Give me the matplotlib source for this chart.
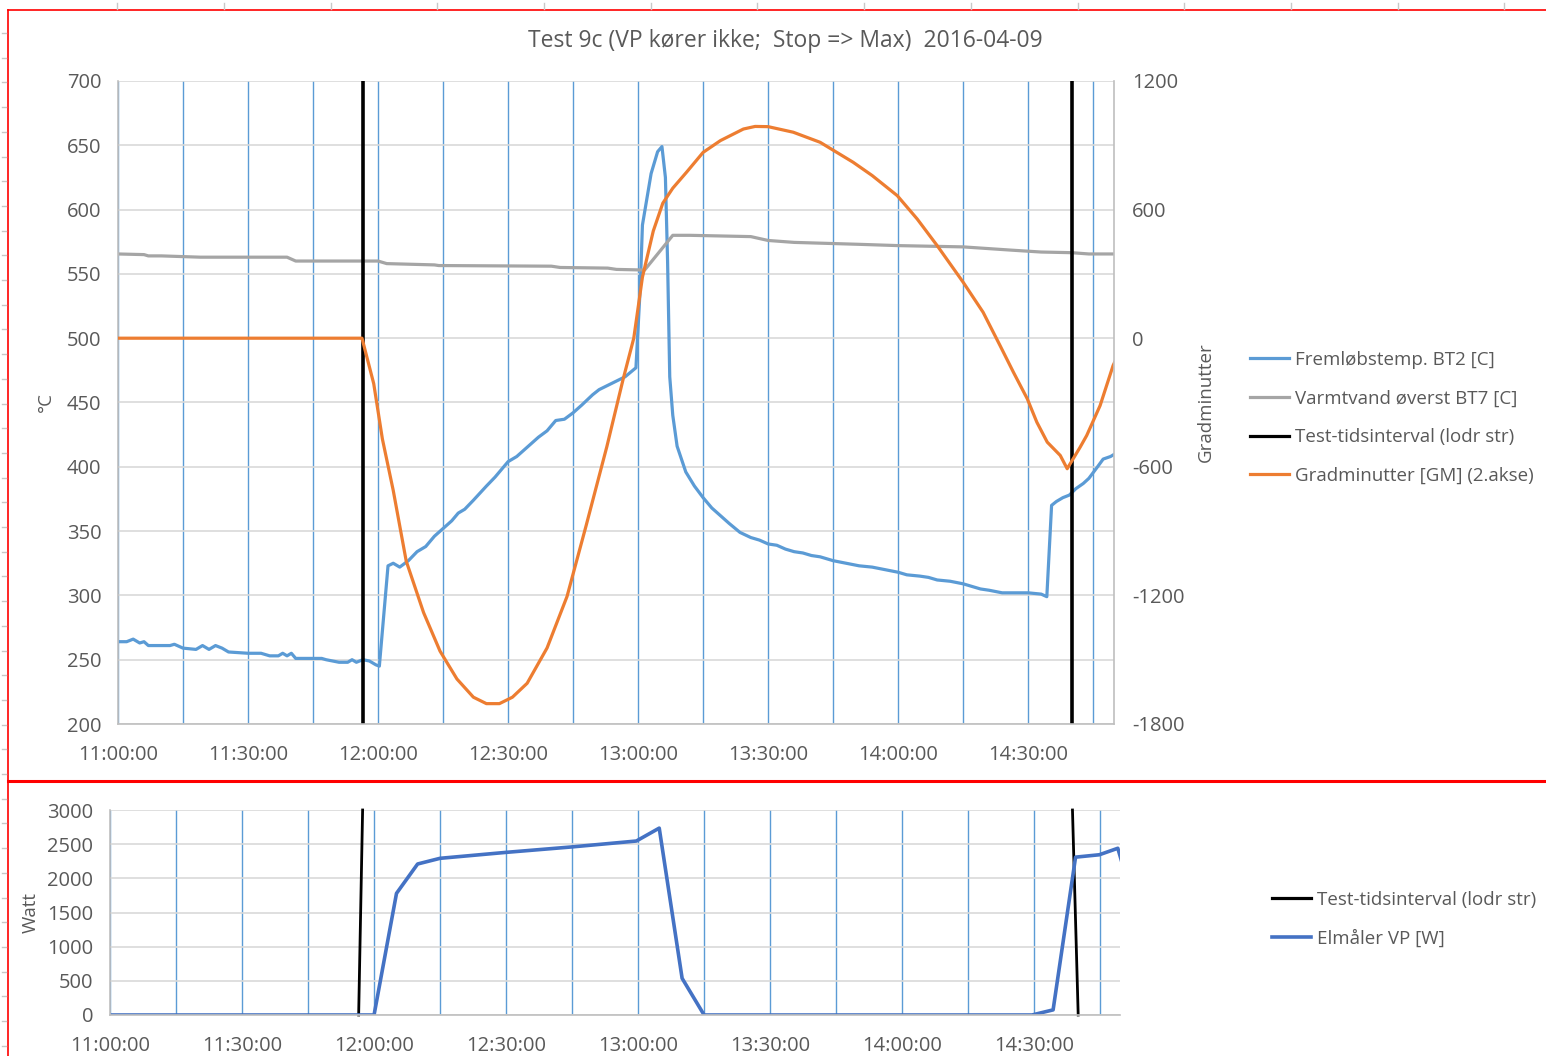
import numpy as np
import matplotlib as mpl
mpl.use('Agg')
import matplotlib.pyplot as plt
from matplotlib.lines import Line2D
from matplotlib.ticker import MultipleLocator, FuncFormatter

plt.rcParams['font.family'] = ['Open Sans', 'DejaVu Sans']
plt.rcParams['axes.unicode_minus'] = False

# Fremløbstemp. BT2 [C]  (left axis)
bt2_time = ['11:00:00', '11:02:00', '11:03:30', '11:05:00', '11:06:00', '11:07:00', '11:12:00', '11:13:00',
            '11:15:00', '11:18:00', '11:19:30', '11:21:00', '11:22:30', '11:24:00', '11:25:30', '11:30:00',
            '11:33:00', '11:35:00', '11:37:00', '11:38:00', '11:39:00', '11:40:00', '11:41:00', '11:47:00',
            '11:48:00', '11:51:00', '11:53:00', '11:54:00', '11:55:00', '11:56:30', '11:58:00', '11:59:30',
            '12:00:18', '12:02:18', '12:03:30', '12:05:00', '12:07:00', '12:09:00', '12:11:00', '12:13:00',
            '12:15:00', '12:17:00', '12:18:30', '12:20:00', '12:22:00', '12:25:00', '12:27:00', '12:30:00',
            '12:32:00', '12:35:00', '12:37:00', '12:39:00', '12:41:00', '12:43:00', '12:45:00', '12:47:00',
            '12:49:30', '12:51:00', '12:54:00', '12:57:00', '12:59:30', '13:00:30', '13:01:00', '13:03:00',
            '13:04:30', '13:05:30', '13:06:18', '13:06:48', '13:07:18', '13:08:00', '13:09:00', '13:11:00',
            '13:13:00', '13:15:00', '13:17:00', '13:19:00', '13:21:00', '13:23:30', '13:26:00', '13:28:00',
            '13:30:00', '13:32:00', '13:34:00', '13:36:00', '13:38:00', '13:40:00', '13:42:00', '13:45:00',
            '13:48:00', '13:51:00', '13:54:00', '13:57:00', '14:00:00', '14:02:00', '14:05:00', '14:07:00',
            '14:09:00', '14:12:00', '14:15:00', '14:17:00', '14:19:00', '14:21:00', '14:24:00', '14:27:00',
            '14:30:00', '14:33:00', '14:34:18', '14:35:24', '14:36:30', '14:38:00', '14:39:30', '14:41:00',
            '14:42:42', '14:44:00', '14:46:00', '14:47:18', '14:49:00', '14:50:00']
bt2_val = [264, 264, 266, 263, 264, 261, 261, 262,
           259, 258, 261, 258, 261, 259, 256, 255,
           255, 253, 253, 255, 253, 255, 251, 251,
           250, 248, 248, 250, 248, 250, 249, 246,
           245, 323, 325, 322, 327, 334, 338, 346,
           352, 358, 364, 367, 374, 385, 392, 404,
           408, 417, 423, 428, 436, 437, 442, 448,
           456, 460, 465, 470, 477, 540, 588, 628,
           645, 649, 625, 560, 470, 440, 416, 396,
           385, 376, 368, 362, 356, 349, 345, 343,
           340, 339, 336, 334, 333, 331, 330, 327,
           325, 323, 322, 320, 318, 316, 315, 314,
           312, 311, 309, 307, 305, 304, 302, 302,
           302, 301, 299, 370, 373, 376, 378, 383,
           387, 391, 400, 406, 408, 410]

# Varmtvand øverst BT7 [C]  (left axis)
bt7_time = ['11:00:00', '11:06:00', '11:07:00', '11:10:00', '11:19:00', '11:39:00', '11:41:00', '12:00:00',
            '12:02:00', '12:13:00', '12:14:00', '12:40:00', '12:42:00', '12:53:00', '12:55:00', '13:01:30',
            '13:08:00', '13:12:00', '13:26:00', '13:30:00', '13:36:00', '13:51:00', '14:00:00', '14:15:00',
            '14:26:00', '14:33:00', '14:40:00', '14:44:00', '14:50:00']
bt7_val = [565.5, 565, 564, 564, 563, 563, 560, 560,
           558, 557, 556.5, 556, 555, 554.5, 553.5, 553,
           580, 580, 579, 576, 574.5, 573, 572, 571,
           568.5, 567, 566.5, 565.5, 565.5]

# Gradminutter [GM] (2.akse)
gm_time = ['11:00:00', '11:56:18', '11:59:00', '12:01:00', '12:03:30', '12:06:30', '12:10:30', '12:14:18',
           '12:18:12', '12:22:00', '12:25:00', '12:28:00', '12:31:00', '12:34:24', '12:39:00', '12:43:36',
           '12:48:00', '12:52:48', '12:56:30', '12:59:00', '13:01:00', '13:03:30', '13:05:42', '13:08:00',
           '13:11:12', '13:15:00', '13:19:00', '13:24:18', '13:27:00', '13:30:00', '13:35:48', '13:42:00',
           '13:49:36', '13:54:00', '13:59:48', '14:04:24', '14:09:00', '14:15:00', '14:19:36', '14:23:30',
           '14:26:36', '14:29:48', '14:32:00', '14:34:24', '14:37:24', '14:39:00', '14:42:00', '14:43:30',
           '14:46:36', '14:49:36', '14:50:00']
gm_val = [0, 0, -212, -470, -710, -1040, -1280, -1460,
          -1590, -1675, -1705, -1705, -1675, -1610, -1445, -1205,
          -875, -505, -195, 0, 285, 500, 630, 700,
          775, 867, 922, 976, 988, 987, 961, 914,
          821, 759, 665, 556, 432, 261, 121, -34,
          -159, -283, -392, -485, -547, -609, -508, -454,
          -314, -127, -110]

# Test-tidsinterval (lodr str)
test_interval = ['11:56:30', '14:40:00']
test_w_time = [['11:56:30', '11:57:24'], ['14:38:42', '14:40:00']]
test_w_val = [[0, 3000], [3000, 0]]

# Elmåler VP [W]
el_time = ['11:00:00', '12:00:00', '12:05:06', '12:09:54', '12:15:00', '12:30:00', '12:45:00', '12:59:36',
           '13:04:48', '13:10:00', '13:15:00', '14:29:30', '14:34:18', '14:39:24', '14:44:48', '14:49:00',
           '14:51:00']
el_val = [0, 0, 1780, 2210, 2293, 2380, 2460, 2546,
          2735, 537, 0, 0, 75, 2310, 2345, 2440,
          2000]


def tmin(s):
    h, m, sec = s.split(':')
    return int(h) * 60 + int(m) + int(sec) / 60.0


def fmt_time(v, pos):
    v = int(round(v))
    return '{:02d}:{:02d}:00'.format(v // 60, v % 60)


BLUE = '#5b9bd5'
GRAY = '#a5a5a5'
ORANGE = '#ed7d31'
DBLUE = '#4472c4'
TXT = '#595959'
GRID = '#d9d9d9'
SPINE = '#bfbfbf'
FS = 13.5    # legend / axis titles
TFS = 14.5   # tick labels

W, H = 1546, 1056
fig = plt.figure(figsize=(W / 100, H / 100), dpi=100)


def px_ax(l, t, r, b):
    return fig.add_axes([l / W, 1 - b / H, (r - l) / W, (b - t) / H])


def style_time_axis(ax):
    ax.xaxis.set_major_locator(MultipleLocator(30))
    ax.xaxis.set_minor_locator(MultipleLocator(15))
    ax.xaxis.set_major_formatter(FuncFormatter(fmt_time))
    ax.grid(True, which='both', axis='x', color=BLUE, lw=1.0)
    ax.grid(True, which='major', axis='y', color=GRID, lw=1.2)
    ax.set_axisbelow(True)
    ax.tick_params(which='both', length=0, colors=TXT, labelsize=TFS)
    for s in ['top', 'right']:
        ax.spines[s].set_visible(False)
    for s in ['left', 'bottom']:
        ax.spines[s].set_color(SPINE)
        ax.spines[s].set_linewidth(1.2)


# ---------------- top chart ----------------
ax = px_ax(118, 81, 1114, 724)
ax2 = ax.twinx()
t0 = tmin('11:00:00')
ax.set_xlim(t0, t0 + 229.8)
ax.set_ylim(200, 700)
ax.set_yticks(np.arange(200, 701, 50))
ax2.set_ylim(-1800, 1200)
ax2.set_yticks(np.arange(-1800, 1201, 600))
style_time_axis(ax)
ax.tick_params(axis='y', pad=12)
ax.tick_params(axis='x', pad=15)
for s in ['left', 'top', 'bottom']:
    ax2.spines[s].set_visible(False)
ax2.spines['right'].set_color(SPINE)
ax2.spines['right'].set_linewidth(1.2)
ax2.tick_params(length=0, colors=TXT, labelsize=TFS, pad=13)

ax.plot([tmin(t) for t in bt2_time], bt2_val, color=BLUE, lw=2.3)
ax.plot([tmin(t) for t in bt7_time], bt7_val, color=GRAY, lw=2.3)
for t in test_interval:
    ax.axvline(tmin(t), color='black', lw=2.6)
ax2.plot([tmin(t) for t in gm_time], gm_val, color=ORANGE, lw=2.3)

ax.set_ylabel('°C', color=TXT, fontsize=FS)
ax.yaxis.set_label_coords(-0.063, 0.5)
ax2.set_ylabel('Gradminutter', color=TXT, fontsize=FS)
ax2.yaxis.set_label_coords(1.083, 0.5)

fig.text(785 / W, 1 - 41 / H, 'Test 9c (VP kører ikke;  Stop => Max)  2016-04-09',
         ha='center', va='center', color=TXT, fontsize=16.5)

h_top = [Line2D([], [], color=BLUE, lw=2.3), Line2D([], [], color=GRAY, lw=2.3),
         Line2D([], [], color='black', lw=2.3), Line2D([], [], color=ORANGE, lw=2.3)]
lab_top = ['Fremløbstemp. BT2 [C]', 'Varmtvand øverst BT7 [C]',
           'Test-tidsinterval (lodr str)', 'Gradminutter [GM] (2.akse)']
fig.legend(h_top, lab_top, loc='center left', bbox_to_anchor=(1250 / W, 1 - 418 / H),
           frameon=False, fontsize=FS, labelcolor=TXT, handlelength=2.1, handletextpad=0.3,
           labelspacing=1.1, borderpad=0, borderaxespad=0)

# ---------------- bottom chart ----------------
bx = px_ax(110, 810, 1120, 1015)
bx.set_xlim(t0, t0 + 229.5)
bx.set_ylim(0, 3000)
bx.set_yticks(np.arange(0, 3001, 500))
style_time_axis(bx)
bx.tick_params(axis='y', pad=12)
bx.tick_params(axis='x', pad=15)
for tt, vv in zip(test_w_time, test_w_val):
    bx.plot([tmin(t) for t in tt], vv, color='black', lw=2.0, clip_on=False)
bx.plot([tmin(t) for t in el_time], el_val, color=DBLUE, lw=2.6)
bx.set_ylabel('Watt', color=TXT, fontsize=FS)
bx.yaxis.set_label_coords(-0.070, 0.5)

h_bot = [Line2D([], [], color='black', lw=2.3), Line2D([], [], color=DBLUE, lw=2.6)]
fig.legend(h_bot, ['Test-tidsinterval (lodr str)', 'Elmåler VP [W]'], loc='center left',
           bbox_to_anchor=(1272 / W, 1 - 919 / H), frameon=False, fontsize=FS, labelcolor=TXT,
           handlelength=2.1, handletextpad=0.3, labelspacing=1.1, borderpad=0, borderaxespad=0)

# ---------------- frame / ruler marks ----------------
red = '#ff0000'
fig.add_artist(Line2D([8 / W, 1], [1 - 10 / H, 1 - 10 / H], color=red, lw=1.2, transform=fig.transFigure))
fig.add_artist(Line2D([8 / W, 8 / W], [0, 1 - 10 / H], color=red, lw=1.2, transform=fig.transFigure))
fig.add_artist(Line2D([8 / W, 1], [1 - 781 / H, 1 - 781 / H], color=red, lw=2.2, transform=fig.transFigure))
for xr in np.arange(10.5 + 106.7, W, 106.7):
    fig.add_artist(Line2D([xr / W, xr / W], [1 - 3 / H, 1 - 9 / H], color='#c8c8c8', lw=1,
                          transform=fig.transFigure))
for yr in np.arange(33, H, 24.7):
    fig.add_artist(Line2D([2 / W, 6 / W], [1 - yr / H, 1 - yr / H], color='#c8c8c8', lw=1,
                          transform=fig.transFigure))

fig.savefig('out.png', dpi=100)
